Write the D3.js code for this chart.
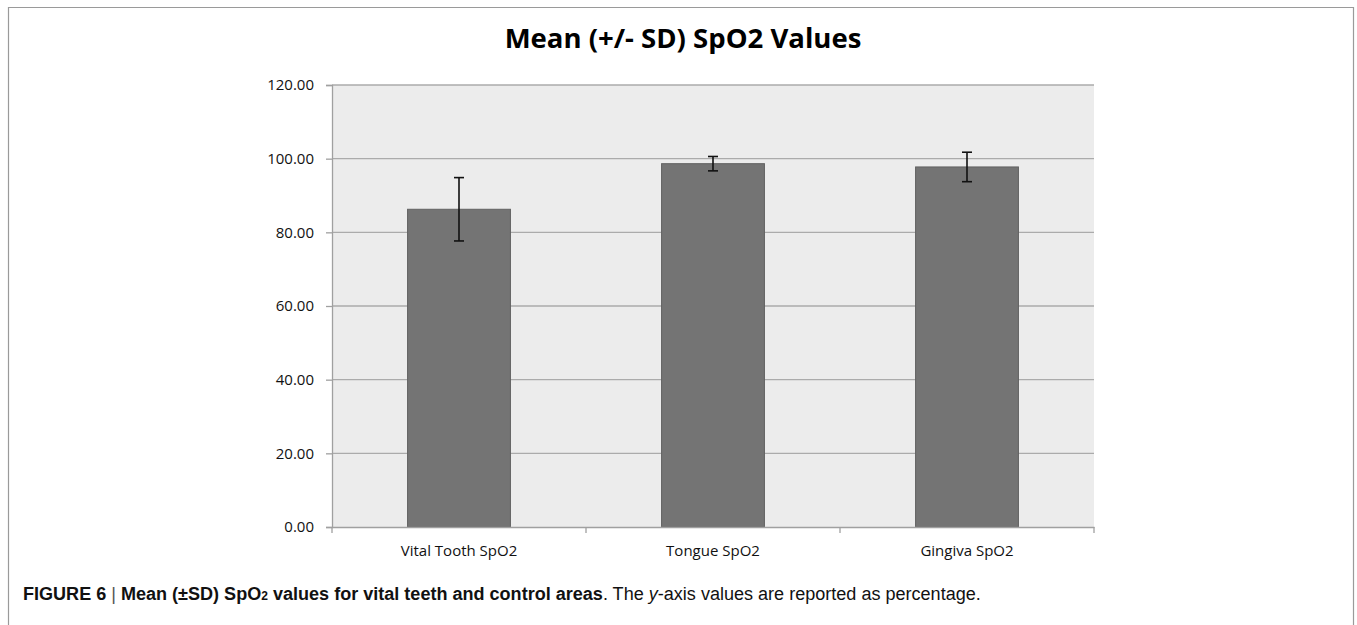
<!DOCTYPE html>
<html>
<head>
<meta charset="utf-8">
<script src="https://cdn.jsdelivr.net/npm/d3@7"></script>
<style>
html,body{margin:0;padding:0;background:#fff;}
svg{display:block;}
</style>
</head>
<body>
<svg id="chart" width="1357" height="625"></svg>
<script>
// ---- data ----
const categories = ["Vital Tooth SpO2", "Tongue SpO2", "Gingiva SpO2"];
const means = [86.26, 98.64, 97.75];
const sds = [8.6, 1.95, 4.0];
const yTicks = [0, 20, 40, 60, 80, 100, 120];
const titleText = "Mean (+/- SD) SpO2 Values";

// ---- layout ----
const svg = d3.select("#chart");
const W = 1357, H = 625;
const plot = {left: 332, right: 1094, top: 85, bottom: 527};

// outer frame
svg.append("path")
  .attr("d", `M8.5,${H} L8.5,7.5 L1353.5,7.5 L1353.5,${H}`)
  .attr("fill", "none").attr("stroke", "#9a9a9a").attr("stroke-width", 1.2);

const x = d3.scaleBand().domain(categories).range([plot.left, plot.right]).paddingInner(0).paddingOuter(0);
const y = d3.scaleLinear().domain([0, 120]).range([plot.bottom, plot.top]);
const barW = x.bandwidth() * 0.405;

// plot background
svg.append("rect")
  .attr("x", plot.left).attr("y", plot.top)
  .attr("width", plot.right - plot.left).attr("height", plot.bottom - plot.top)
  .attr("fill", "#ececec");

// gridlines
svg.append("g").selectAll("line").data(yTicks.filter(d => d > 0)).join("line")
  .attr("x1", plot.left).attr("x2", plot.right)
  .attr("y1", d => y(d)).attr("y2", d => y(d))
  .attr("stroke", "#ababab").attr("stroke-width", 1.3);

// bars
svg.append("g").selectAll("rect").data(categories).join("rect")
  .attr("x", d => x(d) + (x.bandwidth() - barW) / 2)
  .attr("y", (d, i) => y(means[i]))
  .attr("width", barW)
  .attr("height", (d, i) => y(0) - y(means[i]))
  .attr("fill", "#747474").attr("stroke", "#626262").attr("stroke-width", 1);

// error bars
const eb = svg.append("g").attr("stroke", "#111").attr("stroke-width", 1.6);
categories.forEach((c, i) => {
  const cx = x(c) + x.bandwidth() / 2;
  const hi = y(means[i] + sds[i]), lo = y(means[i] - sds[i]);
  eb.append("line").attr("x1", cx).attr("x2", cx).attr("y1", hi).attr("y2", lo);
  eb.append("line").attr("x1", cx - 5).attr("x2", cx + 5).attr("y1", hi).attr("y2", hi);
  eb.append("line").attr("x1", cx - 5).attr("x2", cx + 5).attr("y1", lo).attr("y2", lo);
});

// y axis
const yAxis = svg.append("g").attr("transform", `translate(${plot.left},0)`)
  .call(d3.axisLeft(y).tickValues(yTicks).tickFormat(d3.format(".2f")).tickSize(6).tickPadding(12));
yAxis.select(".domain").attr("stroke", "#a0a0a0").attr("stroke-width", 1.3);
yAxis.selectAll(".tick line").attr("stroke", "#a0a0a0").attr("stroke-width", 1.3);
yAxis.selectAll(".tick text").attr("font-family", "Open Sans, sans-serif").attr("font-size", 15).attr("fill", "#111");

// x axis
const xAxis = svg.append("g").attr("transform", `translate(0,${plot.bottom})`)
  .call(d3.axisBottom(x).tickSize(0).tickPadding(18));
xAxis.select(".domain").attr("stroke", "#a0a0a0").attr("stroke-width", 1.3);
xAxis.selectAll(".tick text").attr("font-family", "Open Sans, sans-serif").attr("font-size", 15).attr("fill", "#111");
// boundary ticks
const bounds = categories.map(c => x(c)).concat([plot.right]);
svg.append("g").selectAll("line").data(bounds).join("line")
  .attr("x1", d => d).attr("x2", d => d)
  .attr("y1", plot.bottom).attr("y2", plot.bottom + 6)
  .attr("stroke", "#a0a0a0").attr("stroke-width", 1.3);

// title
const title = svg.append("text")
  .attr("x", 683).attr("y", 48).attr("text-anchor", "middle")
  .attr("font-family", "Open Sans, sans-serif").attr("font-weight", "bold")
  .attr("font-size", 25).attr("fill", "#000").text(titleText);
const tw = title.node().getComputedTextLength();
title.attr("font-size", 25 * 357 / tw);

// caption
const cap = svg.append("text").attr("x", 23).attr("y", 600)
  .attr("font-family", "'Liberation Sans Narrow', 'Arial Narrow', 'Liberation Sans', sans-serif")
  .attr("font-size", 15).attr("fill", "#111");
cap.append("tspan").attr("font-weight", "bold").text("FIGURE 6 ");
cap.append("tspan").attr("fill", "#555").text("| ");
cap.append("tspan").attr("font-weight", "bold").text("Mean (±SD) SpO");
cap.append("tspan").attr("font-weight", "bold").attr("font-size", 10).text("2");
cap.append("tspan").attr("font-weight", "bold").text(" values for vital teeth and control areas");
cap.append("tspan").text(". The ");
cap.append("tspan").attr("font-style", "italic").text("y");
cap.append("tspan").text("-axis values are reported as percentage.");
const cw = cap.node().getComputedTextLength();
cap.attr("font-size", 15 * 959 / cw);
cap.selectAll("tspan").filter(function(){ return d3.select(this).attr("font-size") === "10"; })
  .attr("font-size", 10 * 959 / cw);
</script>
</body>
</html>
